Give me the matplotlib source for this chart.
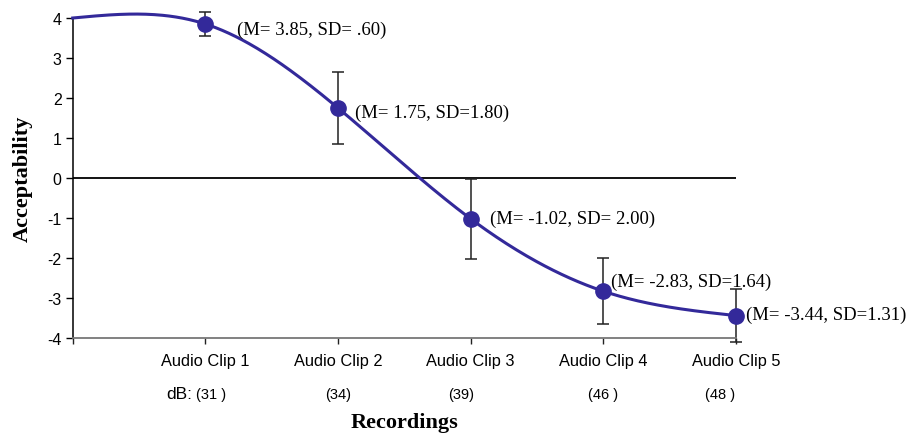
import numpy as np
import matplotlib
matplotlib.use("Agg")
import matplotlib.pyplot as plt

# ---- data ----
categories = ["", "Audio Clip 1", "Audio Clip 2", "Audio Clip 3", "Audio Clip 4", "Audio Clip 5"]
means = [4.0, 3.85, 1.75, -1.02, -2.83, -3.44]
sds = [None, 0.60, 1.80, 2.00, 1.64, 1.31]
ann_labels = ["", "(M= 3.85, SD= .60)", "(M= 1.75, SD=1.80)", "(M= -1.02, SD= 2.00)",
              "(M= -2.83, SD=1.64)", "(M= -3.44, SD=1.31)"]
db_labels = ["", "(31 )", "(34)", "(39)", "(46 )", "(48 )"]
yticks = [-4, -3, -2, -1, 0, 1, 2, 3, 4]

# ---- layout ----
ann_offsets = [(0, 0), (23, -3.5), (12.5, -3), (14, 0), (5.5, 7), (7, 0.7)]   # points
db_xshift = [0, 0.04, 0.0, -0.074, 0.0, -0.12]                              # data units

line_color = "#33299A"

fig = plt.figure(figsize=(9.17, 4.35), dpi=100)
ax = fig.add_axes([0.0793, 0.2207, 0.7233, 0.7356])

x = np.arange(len(means), dtype=float)
y = np.array(means, dtype=float)

# natural cubic spline for the smoothed line
def natural_spline(xs, ys, n=400):
    nn = len(xs)
    h = np.diff(xs)
    A = np.zeros((nn, nn))
    b = np.zeros(nn)
    A[0, 0] = 1
    A[-1, -1] = 1
    for i in range(1, nn - 1):
        A[i, i - 1] = h[i - 1]
        A[i, i] = 2 * (h[i - 1] + h[i])
        A[i, i + 1] = h[i]
        b[i] = 3 * ((ys[i + 1] - ys[i]) / h[i] - (ys[i] - ys[i - 1]) / h[i - 1])
    c = np.linalg.solve(A, b)
    xx = np.linspace(xs[0], xs[-1], n)
    yy = np.empty_like(xx)
    for k, t in enumerate(xx):
        i = min(np.searchsorted(xs, t, side="right") - 1, nn - 2)
        bi = (ys[i + 1] - ys[i]) / h[i] - h[i] * (2 * c[i] + c[i + 1]) / 3
        di = (c[i + 1] - c[i]) / (3 * h[i])
        dx = t - xs[i]
        yy[k] = ys[i] + bi * dx + c[i] * dx ** 2 + di * dx ** 3
    return xx, yy

xx, yy = natural_spline(x, y)

# zero line
ax.axhline(0, color="black", lw=1.3, zorder=1)

# error bars (half SD)
xe = x[1:]
ye = y[1:]
err = np.array([s / 2 for s in sds[1:]])
ax.errorbar(xe, ye, yerr=err, fmt="none", ecolor="#222222", elinewidth=1.1,
            capsize=4, capthick=1.1, zorder=2, clip_on=False)

ax.plot(xx, yy, color=line_color, lw=2.2, zorder=3, clip_on=False)
ax.plot(xe, ye, "o", color=line_color, ms=11, zorder=4, clip_on=False)

for i in range(1, len(means)):
    ax.annotate(ann_labels[i], (x[i], y[i]), xytext=ann_offsets[i], textcoords="offset points",
                ha="left", va="center", fontsize=13.5, family="Liberation Serif", zorder=5,
                annotation_clip=False)

ax.set_xlim(0, 5)
ax.set_ylim(-4, 4)
ax.set_yticks(yticks)
ax.set_yticklabels([str(t) for t in yticks], family="Liberation Sans", fontsize=11.5)
ax.set_xticks(x)
ax.set_xticklabels(categories, family="Liberation Sans", fontsize=11.8)
ax.tick_params(axis="y", direction="out", length=5, width=1, pad=3, color="black")
ax.tick_params(axis="x", direction="out", length=4, width=1, pad=7, color="#222222")

for s in ["top", "right"]:
    ax.spines[s].set_visible(False)
ax.spines["left"].set_color("black")
ax.spines["left"].set_linewidth(1.1)
ax.spines["bottom"].set_color("#777777")
ax.spines["bottom"].set_linewidth(1.3)

# dB row
trans = ax.get_xaxis_transform()
ax.text(0.90, -0.175, "dB:", transform=trans, ha="right", va="center",
        family="Liberation Sans", fontsize=12.5)
for i in range(1, len(db_labels)):
    ax.text(x[i] + db_xshift[i], -0.175, db_labels[i], transform=trans, ha="center", va="center",
            family="Liberation Sans", fontsize=10.5)

ax.text(0.5, -0.2625, "Recordings", transform=ax.transAxes, ha="center", va="center",
        family="Liberation Serif", fontsize=16, fontweight="bold")
ax.text(-0.075, 0.5, "Acceptability", transform=ax.transAxes, ha="center", va="center",
        rotation=90, family="Liberation Serif", fontsize=16, fontweight="bold")

fig.savefig("out.png", dpi=100)
